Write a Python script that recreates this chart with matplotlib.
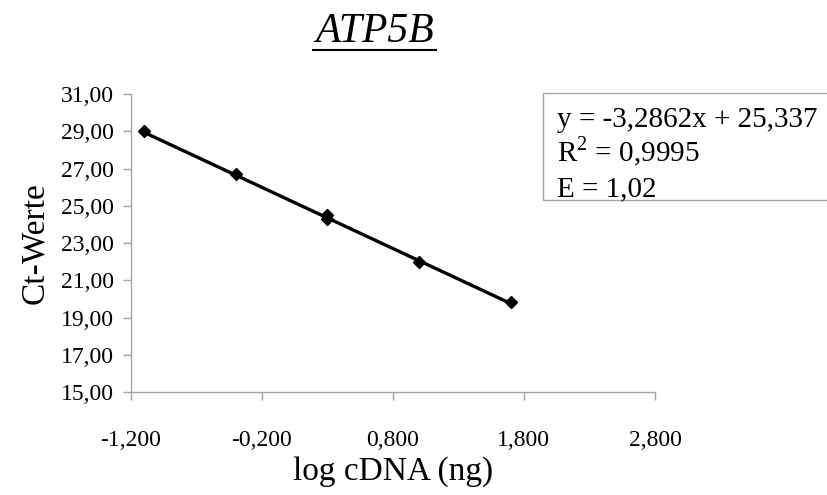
import matplotlib
matplotlib.use('Agg')
import matplotlib.pyplot as plt
from matplotlib.patches import Rectangle
import numpy as np

# data
log_cdna = [-1.097, -0.398, 0.301, 0.301, 1.000, 1.699]
ct_werte = [29.00, 26.70, 24.48, 24.30, 21.98, 19.82]
slope = -3.2862
intercept = 25.337
r2_text = '0,9995'
eff_text = '1,02'

x_ticks = [-1.2, -0.2, 0.8, 1.8, 2.8]
y_ticks = [15, 17, 19, 21, 23, 25, 27, 29, 31]

plt.rcParams['font.family'] = ['Liberation Serif', 'DejaVu Serif']
plt.rcParams['mathtext.fontset'] = 'custom'
plt.rcParams['mathtext.rm'] = 'Liberation Serif'

fig = plt.figure(figsize=(8.27, 4.95), dpi=100)
ax = fig.add_axes([0.158, 0.208, 0.634, 0.602])

# trendline across data range
xf = np.array([min(log_cdna), max(log_cdna)])
ax.plot(xf, slope * xf + intercept, color='black', lw=2.4, zorder=2)
ax.plot(log_cdna, ct_werte, 'D', color='black', ms=6, zorder=3)

ax.set_xlim(-1.2, 2.8)
ax.set_ylim(15, 31)
ax.set_xticks(x_ticks)
ax.set_yticks(y_ticks)
ax.set_xticklabels([('%.3f' % v).replace('.', ',') for v in x_ticks])
ax.set_yticklabels([('%.2f' % v).replace('.', ',') for v in y_ticks])

for s in ['top', 'right']:
    ax.spines[s].set_visible(False)
for s in ['left', 'bottom']:
    ax.spines[s].set_color('#a6a6a6')
    ax.spines[s].set_linewidth(1.0)
ax.tick_params(axis='both', direction='out', color='#a6a6a6', length=6, width=1.0,
               labelsize=17)
ax.tick_params(axis='x', pad=21)
ax.tick_params(axis='y', pad=6)

ax.set_xlabel('log cDNA (ng)', fontsize=24, labelpad=4)
ax.set_ylabel('Ct-Werte', fontsize=24, labelpad=8)

# title, italic and underlined
t = fig.text(0.453, 0.916, 'ATP5B', fontsize=30, style='italic', ha='center',
             va='baseline')
fig.canvas.draw()
bb = t.get_window_extent().transformed(fig.transFigure.inverted())
fig.add_artist(plt.Line2D([bb.x0 - 0.003, bb.x1 + 0.003], [0.899, 0.899],
                          color='black', lw=1.5, transform=fig.transFigure))

# equation box
fig.add_artist(Rectangle((0.657, 0.596), 0.4, 0.216, transform=fig.transFigure,
                         facecolor='white', edgecolor='#a6a6a6', lw=1.0))
lines = ['y = %sx + %s' % (('%.4f' % slope).replace('.', ','),
                           ('%.3f' % intercept).replace('.', ',')),
         r'R$^{2}$ = ' + r2_text,
         'E = ' + eff_text]
for i, s in enumerate(lines):
    fig.text(0.673, 0.744 - i * 0.07, s, fontsize=21, ha='left', va='baseline')

fig.savefig('out.png', dpi=100)
